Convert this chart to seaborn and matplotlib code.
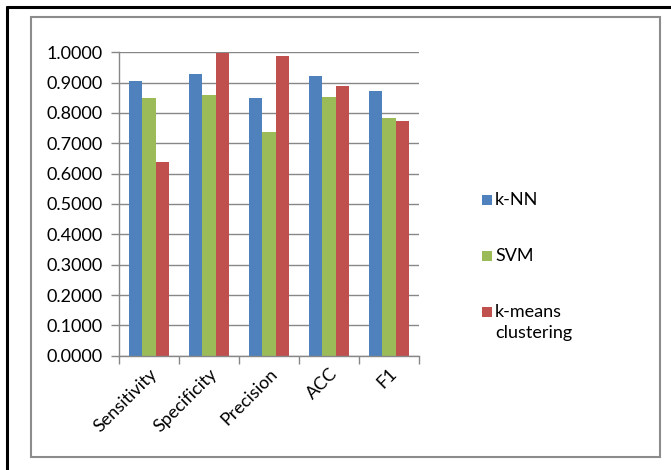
import matplotlib
matplotlib.use("Agg")
import matplotlib.pyplot as plt
import seaborn as sns
import pandas as pd
import numpy as np
from matplotlib.lines import Line2D
from matplotlib.patches import Rectangle
from matplotlib.ticker import FormatStrFormatter, FixedLocator

metrics = ["Sensitivity", "Specificity", "Precision", "ACC", "F1"]
methods = ["k-NN", "SVM", "k-means\nclustering"]
knn = [0.907, 0.929, 0.851, 0.922, 0.873]
svm = [0.850, 0.860, 0.738, 0.854, 0.784]
kmeans = [0.638, 0.998, 0.989, 0.888, 0.772]
colors = ["#4F81BD", "#9BBB59", "#C0504D"]

df = pd.DataFrame({
    "metric": metrics * 3,
    "method": [methods[0]] * 5 + [methods[1]] * 5 + [methods[2]] * 5,
    "value": knn + svm + kmeans,
})

sns.set_theme(style="white")
plt.rcParams["font.family"] = ["Lato", "DejaVu Sans"]
FS = 13

W, H = 671, 470
fig = plt.figure(figsize=(W / 100, H / 100), dpi=100)
ax = fig.add_axes([119 / W, 1 - 355.7 / H, 300 / W, (355.7 - 52.3) / H])

sns.barplot(data=df, x="metric", y="value", hue="method", palette=colors,
            width=0.667, saturation=1, ax=ax, edgecolor="none", linewidth=0)

grid_c = "#878787"
ax.set_ylim(0, 1.0)
ax.set_xlim(-0.5, 4.5)
ax.set_yticks(np.arange(0, 1.01, 0.1))
ax.yaxis.set_major_formatter(FormatStrFormatter("%.4f"))
ax.yaxis.grid(True, color=grid_c, linewidth=1.0)
ax.set_axisbelow(True)
for s in ["top", "right"]:
    ax.spines[s].set_visible(False)
for s in ["left", "bottom"]:
    ax.spines[s].set_color(grid_c)
    ax.spines[s].set_linewidth(1.0)
ax.set_xlabel("")
ax.set_ylabel("")

ax.tick_params(axis="y", which="major", left=True, length=6, width=1.0,
               color=grid_c, pad=6, labelsize=FS, labelcolor="black")
ax.tick_params(axis="x", which="major", bottom=False, length=0, pad=7,
               labelsize=FS, labelcolor="black")
ax.xaxis.set_minor_locator(FixedLocator(np.arange(-0.5, 4.6, 1.0)))
ax.tick_params(axis="x", which="minor", bottom=True, length=6, width=1.0,
               color=grid_c)
for lbl in ax.get_xticklabels():
    lbl.set_rotation(45)
    lbl.set_ha("right")
    lbl.set_rotation_mode("anchor")

# legend on the right: colour square beside the first line of each label
ax.legend_.remove()
px = lambda x, y: (x / W, 1 - y / H)
entry_y = [200, 256, 312]
line_step = 21
for color, label, y in zip(colors, methods, entry_y):
    x0, y0 = px(482, y + 5)
    fig.add_artist(Rectangle((x0, y0), 10 / W, 10 / H, transform=fig.transFigure,
                             facecolor=color, edgecolor="none"))
    for k, line in enumerate(label.split("\n")):
        fig.text(*px(495, y + k * line_step), line, fontsize=FS,
                 va="center", ha="left", color="black")

# chart frame and page edge
fig.add_artist(Rectangle((31 / W, 1 - 457 / H), (660 - 31) / W, (457 - 17) / H,
                         transform=fig.transFigure, fill=False,
                         edgecolor="#8C8C8C", linewidth=1.5))
fig.add_artist(Line2D([7 / W, 1], [1 - 7 / H, 1 - 7 / H],
                      transform=fig.transFigure, color="black", linewidth=2.2))
fig.add_artist(Line2D([7 / W, 7 / W], [0, 1 - 7 / H],
                      transform=fig.transFigure, color="black", linewidth=2.2))

fig.savefig("out.png", dpi=100, facecolor="white")
